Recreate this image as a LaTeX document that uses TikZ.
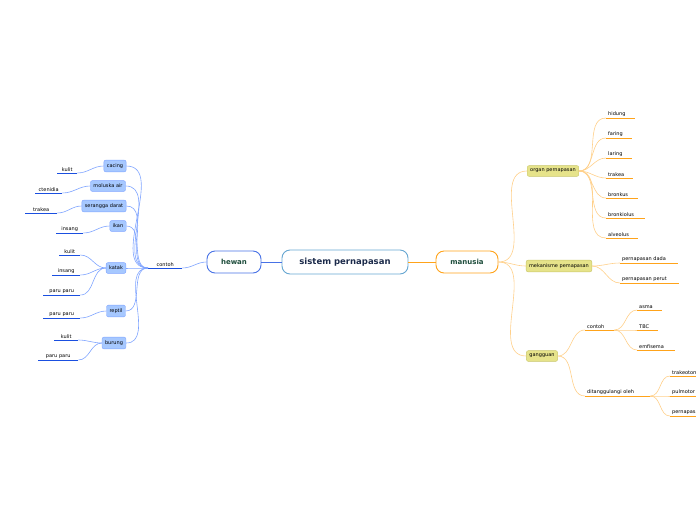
\documentclass[tikz,border=0pt]{standalone}
\usepackage{fontspec}
\setmainfont{DejaVu Sans}
\definecolor{bluedark}{HTML}{1A4FE0}
\definecolor{bluecon}{HTML}{7FA4FF}
\definecolor{bluefill}{HTML}{A6C8FF}
\definecolor{orangedark}{HTML}{FFA31A}
\definecolor{orangecon}{HTML}{FFD08A}
\definecolor{olivefill}{HTML}{E6E38A}
\definecolor{olivedraw}{HTML}{C9C66A}
\definecolor{navytext}{HTML}{1B2A4A}
\definecolor{greentext}{HTML}{1F4E3D}
\tikzset{
  leafL/.style={anchor=south west,inner xsep=0pt,inner ysep=1.6pt,align=center,font=\fontsize{5}{6}\selectfont},
  leafR/.style={anchor=south west,inner xsep=2pt,inner ysep=1.6pt,align=left,font=\fontsize{5}{6}\selectfont},
  boxL/.style={draw=bluecon,fill=bluefill,rounded corners=2pt,inner xsep=3pt,inner ysep=3.5pt,font=\fontsize{5}{6}\selectfont},
  boxR/.style={draw=olivedraw,fill=olivefill,rounded corners=2pt,inner xsep=3pt,inner ysep=3.5pt,font=\fontsize{5}{6}\selectfont},
  main/.style={draw,line width=0.9pt,rounded corners=8pt,fill=white,font=\bfseries\fontsize{7}{8}\selectfont,text=greentext,minimum height=22pt},
  conL/.style={draw=bluecon,line width=0.6pt},
  conR/.style={draw=orangecon,line width=0.6pt},
  ulL/.style={draw=bluedark,line width=1pt},
  ulR/.style={draw=orangedark,line width=1pt}
}
\begin{document}
\begin{tikzpicture}[x=1pt,y=-1pt]
\useasboundingbox (0,0) rectangle (696,520);
\clip (0,0) rectangle (696,520);

% main nodes
\node (root) at (345,262) [draw=blue!40!cyan!70!black!60,line width=0.9pt,rounded corners=8pt,minimum width=126pt,minimum height=24pt,font=\bfseries\fontsize{8.5}{10}\selectfont,text=navytext] {sistem pernapasan};
\node (hewan) at (234,262) [main,draw=bluedark!80,minimum width=54pt] {hewan};
\node (manusia) at (467,262) [main,draw=orangedark,minimum width=62pt] {manusia};

\draw [conL,draw=bluedark!80,line width=0.9pt] (root) -- (hewan);
\draw [conR,draw=orangedark,line width=0.9pt] (root) -- (manusia);

% hewan side
\node (contohL) at (148,268) [leafL,text width=34pt] {contoh};
\node (cacing) at (115,166) [boxL] {cacing};
\node (moluska) at (108,186) [boxL] {moluska air};
\node (serangga) at (104,206) [boxL] {serangga darat};
\node (ikan) at (118,226) [boxL] {ikan};
\node (katak) at (116,268) [boxL] {katak};
\node (reptil) at (116,311) [boxL] {reptil};
\node (burung) at (114,343) [boxL] {burung};

\node (kulitA) at (57,173) [leafL,text width=20pt] {kulit};
\node (ctenidia) at (35,193) [leafL,text width=27pt] {ctenidia};
\node (trakeaL) at (25,213) [leafL,text width=32pt] {trakea};
\node (insangA) at (56,233) [leafL,text width=27pt] {insang};
\node (kulitB) at (59,255) [leafL,text width=21pt] {kulit};
\node (insangB) at (52,275) [leafL,text width=28pt] {insang};
\node (paruA) at (43,295) [leafL,text width=37pt] {paru paru};
\node (paruB) at (43,318) [leafL,text width=37pt] {paru paru};
\node (kulitC) at (54,340) [leafL,text width=24pt] {kulit};
\node (paruC) at (38,360) [leafL,text width=40pt] {paru paru};

\foreach \n in {contohL,kulitA,ctenidia,trakeaL,insangA,kulitB,insangB,paruA,paruB,kulitC,paruC}
  \draw [ulL] (\n.south west) -- (\n.south east);

\draw [conL] (hewan.west) to[out=180,in=0] (contohL.south east);
\foreach \n in {cacing,moluska,serangga,ikan,katak,reptil,burung}
  \draw [conL] (contohL.south west) to[out=180,in=0] (\n.east);
\draw [conL] (cacing.west) to[out=180,in=0] (kulitA.south east);
\draw [conL] (moluska.west) to[out=180,in=0] (ctenidia.south east);
\draw [conL] (serangga.west) to[out=180,in=0] (trakeaL.south east);
\draw [conL] (ikan.west) to[out=180,in=0] (insangA.south east);
\foreach \n in {kulitB,insangB,paruA}
  \draw [conL] (katak.west) to[out=180,in=0] (\n.south east);
\draw [conL] (reptil.west) to[out=180,in=0] (paruB.south east);
\foreach \n in {kulitC,paruC}
  \draw [conL] (burung.west) to[out=180,in=0] (\n.south east);

% manusia side
\node (organ) at (553,171) [boxR] {organ pernapasan};
\node (mekanisme) at (559,266) [boxR] {mekanisme pemapasan};
\node (gangguan) at (542,356) [boxR] {gangguan};
\foreach \n in {organ,mekanisme,gangguan}
  \draw [conR] (manusia.east) to[out=0,in=180] (\n.west);

\node (hidung) at (606,118) [leafR,text width=25pt] {hidung};
\node (faring) at (606,138) [leafR,text width=22pt] {faring};
\node (laring) at (606,158) [leafR,text width=22pt] {laring};
\node (trakeaR) at (606,178) [leafR,text width=23pt] {trakea};
\node (bronkus) at (606,198) [leafR,text width=28pt] {bronkus};
\node (bronkiolus) at (606,218) [leafR,text width=35pt] {bronkiolus};
\node (alveolus) at (606,238) [leafR,text width=28pt] {alveolus};
\foreach \n in {hidung,faring,laring,trakeaR,bronkus,bronkiolus,alveolus}
  \draw [conR] (organ.east) to[out=0,in=180] (\n.south west);

\node (dada) at (620,263) [leafR,text width=54pt] {pernapasan dada};
\node (perut) at (620,283) [leafR,text width=55pt] {pernapasan perut};
\foreach \n in {dada,perut}
  \draw [conR] (mekanisme.east) to[out=0,in=180] (\n.south west);

\node (contohR) at (585,330) [leafR,text width=25pt] {contoh};
\node (ditanggulangi) at (585,396) [leafR,text width=61pt] {ditanggulangi oleh};
\foreach \n in {contohR,ditanggulangi}
  \draw [conR] (gangguan.east) to[out=0,in=180] (\n.south west);

\node (asma) at (637,310) [leafR,text width=21pt] {asma};
\node (tbc) at (637,330) [leafR,text width=17pt] {TBC};
\node (emfisema) at (637,350) [leafR,text width=34pt] {emfisema};
\foreach \n in {asma,tbc,emfisema}
  \draw [conR] (contohR.south east) to[out=0,in=180] (\n.south west);

\node (trakeotomi) at (670,376) [leafR,text width=40pt] {trakeotomi};
\node (pulmotor) at (670,396) [leafR,text width=40pt] {pulmotor};
\node (buatan) at (670,416) [leafR,text width=60pt] {pernapasan buatan};
\foreach \n in {trakeotomi,pulmotor,buatan}
  \draw [conR] (ditanggulangi.south east) to[out=0,in=180] (\n.south west);

\foreach \n in {hidung,faring,laring,trakeaR,bronkus,bronkiolus,alveolus,dada,perut,contohR,ditanggulangi,asma,tbc,emfisema,trakeotomi,pulmotor,buatan}
  \draw [ulR] (\n.south west) -- (\n.south east);

\end{tikzpicture}
\end{document}
